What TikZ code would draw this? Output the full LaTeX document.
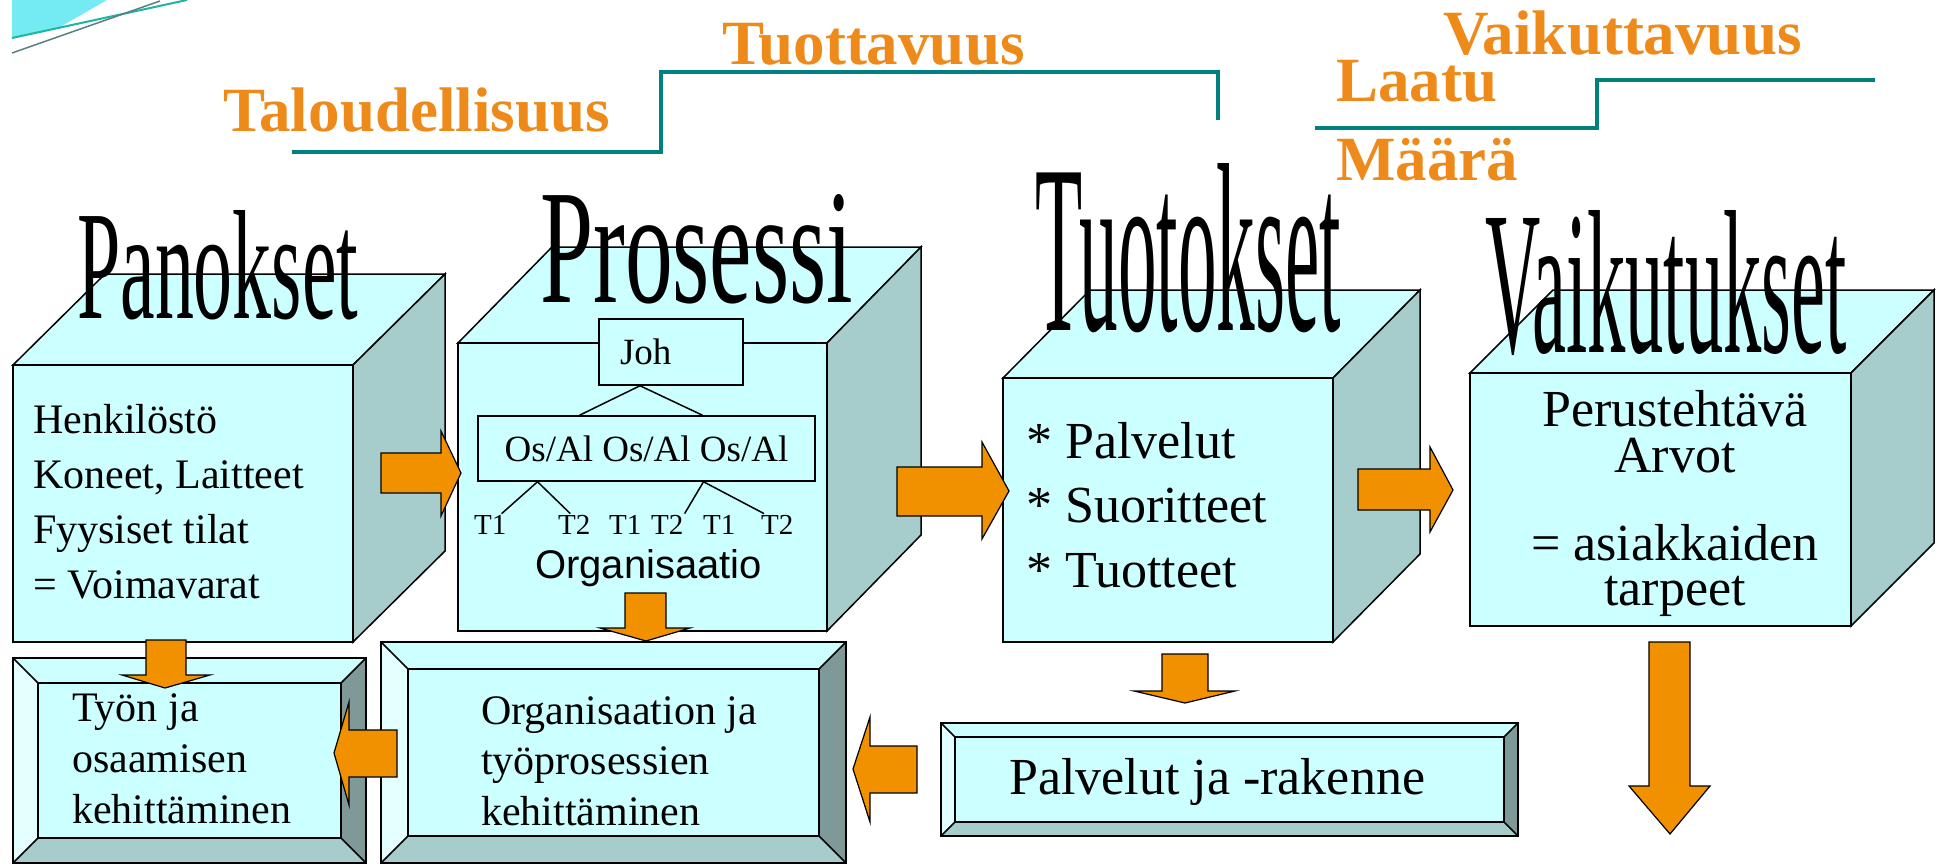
\documentclass[tikz,border=0pt]{standalone}
\usepackage{fontspec}
\setmainfont{Liberation Serif}
\newfontfamily\arialfont{Liberation Sans}
\usetikzlibrary{calc,positioning}

\definecolor{boxcyan}{HTML}{CCFFFF}
\definecolor{sidecyan}{HTML}{A6CCCC}
\definecolor{lightcyan}{HTML}{E3FFFF}
\definecolor{darkside}{HTML}{7F9999}
\definecolor{arroworange}{HTML}{F29100}
\definecolor{textorange}{HTML}{EE8A1A}
\definecolor{stepteal}{HTML}{008080}
\definecolor{swooshcyan}{HTML}{74EAF2}
\definecolor{swooshgreen}{HTML}{1FB5A0}

\newcommand{\fsz}[1]{\fontsize{#1}{#1}\selectfont}

% cube: x1 y1 x2 y2 (front face), dx dy (depth)
\newcommand{\cubebox}[6]{%
  \filldraw[face] (#1,#2) -- ({#1+#5},{#2-#6}) -- ({#3+#5},{#2-#6}) -- (#3,#2) -- cycle;
  \filldraw[side] (#3,#2) -- ({#3+#5},{#2-#6}) -- ({#3+#5},{#4-#6}) -- (#3,#4) -- cycle;
  \filldraw[face] (#1,#2) rectangle (#3,#4);
}
% bevelled box: x1 y1 x2 y2, bevel width
\newcommand{\bevelbox}[5]{%
  \fill[boxcyan] (#1,#2) -- (#3,#2) -- ({#3-#5},{#2+#5}) -- ({#1+#5},{#2+#5}) -- cycle;
  \fill[lightcyan] (#1,#2) -- ({#1+#5},{#2+#5}) -- ({#1+#5},{#4-#5}) -- (#1,#4) -- cycle;
  \fill[sidecyan] (#1,#4) -- ({#1+#5},{#4-#5}) -- ({#3-#5},{#4-#5}) -- (#3,#4) -- cycle;
  \fill[darkside] (#3,#2) -- (#3,#4) -- ({#3-#5},{#4-#5}) -- ({#3-#5},{#2+#5}) -- cycle;
  \fill[boxcyan] ({#1+#5},{#2+#5}) rectangle ({#3-#5},{#4-#5});
  \draw[edge] (#1,#2) rectangle (#3,#4);
  \draw[edge] ({#1+#5},{#2+#5}) rectangle ({#3-#5},{#4-#5});
  \draw[edge] (#1,#2) -- ({#1+#5},{#2+#5}) (#3,#2) -- ({#3-#5},{#2+#5})
              (#1,#4) -- ({#1+#5},{#4-#5}) (#3,#4) -- ({#3-#5},{#4-#5});
}

\tikzset{
  edge/.style={draw=black, line width=1.5pt},
  face/.style={edge, fill=boxcyan},
  side/.style={edge, fill=sidecyan},
  blockarrow/.style={draw=black, line width=1.2pt, fill=arroworange},
  stepline/.style={draw=stepteal, line width=4.5pt},
  measure/.style={anchor=base west, inner sep=0pt, text=textorange, font=\fsz{63}\bfseries},
  heading/.style={anchor=base west, inner sep=0pt},
  boxtext/.style={anchor=base west, inner sep=0pt, font=\fsz{42}},
  bigtext/.style={anchor=base west, inner sep=0pt, font=\fsz{52}},
  orgbox/.style={draw=black, line width=1.5pt, fill=boxcyan, inner sep=0pt, font=\fsz{37}},
  tlabel/.style={anchor=base west, inner sep=1pt, font=\fsz{29}}
}

\begin{document}
\begin{tikzpicture}[x=1pt,y=-1pt]
\useasboundingbox (0,0) rectangle (1939,864);

% corner swoosh
\fill[swooshcyan] (12,0) -- (107,0) -- (60,27) -- (12,38) -- cycle;
\draw[swooshgreen, line width=2pt] (12,38) -- (187,0);
\draw[gray!70!teal, line width=1.5pt] (12,53) -- (160,1);

% step lines
\draw[stepline] (292,152) -- (661,152) -- (661,72) -- (1218,72) -- (1218,120);
\draw[stepline] (1315,128) -- (1597,128) -- (1597,80) -- (1875,80);

\node[measure] (talous) at (223,132) {Taloudellisuus};
\node[measure] (tuottavuus) at (722,65) {Tuottavuus};
\node[measure] (vaikuttavuus) at (1443,55) {Vaikuttavuus};
\node[measure] (laatu) at (1336,102) {Laatu};
\node[measure] (maara) at (1336,180) {Määrä};

% cubes
\cubebox{13}{365}{353}{642}{92}{91}
\cubebox{458}{343}{827}{631}{94}{96}
\cubebox{1003}{378}{1333}{642}{87}{88}
\cubebox{1470}{373}{1851}{626}{83}{83}

\node[heading] (panokset) at (77,318) {\resizebox{281pt}{108pt}{Panokset}};
\node[heading] (prosessi) at (540,302) {\resizebox{313pt}{108pt}{Prosessi}};
\node[heading] (tuotokset) at (1035,330) {\resizebox{306pt}{167pt}{Tuotokset}};
\node[heading] (vaikutukset) at (1485,352) {\resizebox{361pt}{142pt}{Vaikutukset}};

% Panokset
\foreach \t [count=\i] in {Henkilöstö, {Koneet, Laitteet}, Fyysiset tilat, = Voimavarat}
  \node[boxtext] (pan\i) at (33,{433+55*(\i-1)}) {\t};

% Prosessi: organisation tree
\node[orgbox, minimum width=144pt, minimum height=66pt, text width=102pt, inner xsep=21pt, align=left]
  (joh) at (671,352) {Joh};
\node[orgbox, minimum width=337pt, minimum height=65pt] (os) at (646.5,448.5) {Os/Al Os/Al Os/Al};
\foreach \x/\t [count=\i] in {473/T1,557/T2,608/T1,650/T2,702/T1,760/T2}
  \node[tlabel] (t\i) at (\x,534) {\t};
\draw[edge] ([xshift=-31pt]joh.south) -- ([xshift=-67pt]os.north);
\draw[edge] ([xshift=-31pt]joh.south) -- ([xshift=56pt]os.north);
\draw[edge] ([xshift=-109pt]os.south) -- ([xshift=-6pt]t1.north east);
\draw[edge] ([xshift=-109pt]os.south) -- ([xshift=-4pt]t2.north);
\draw[edge] ([xshift=57pt]os.south) -- (t4.north east);
\draw[edge] ([xshift=57pt]os.south) -- ([xshift=4pt]t6.north west);
\node[anchor=base west, inner sep=0pt, font=\arialfont\fsz{40}] (organisaatio) at (535,578) {Organisaatio};

% Tuotokset
\foreach \t [count=\i] in {* Palvelut, * Suoritteet, * Tuotteet}
  \node[bigtext] (tuo\i) at (1026,{458+64.5*(\i-1)}) {\t};

% Vaikutukset
\node[bigtext, anchor=base] (vai1) at (1675,426) {Perustehtävä};
\node[bigtext, anchor=base] (vai2) at (1675,472) {Arvot};
\node[bigtext, anchor=base] (vai3) at (1675,560) {= asiakkaiden};
\node[bigtext, anchor=base] (vai4) at (1675,605) {tarpeet};

% lower boxes
\bevelbox{13}{658}{366}{863}{25}
\bevelbox{381}{642}{846}{863}{27}
\bevelbox{941}{723}{1518}{836}{14}

\foreach \t [count=\i] in {Työn ja, osaamisen, kehittäminen}
  \node[boxtext] (tyo\i) at (72,{721+51*(\i-1)}) {\t};
\foreach \t [count=\i] in {Organisaation ja, työprosessien, kehittäminen}
  \node[boxtext] (kehi\i) at (481,{724+50.5*(\i-1)}) {\t};
\node[bigtext] (rakenne) at (1009,794) {Palvelut ja -rakenne};

% block arrows, right
\filldraw[blockarrow] (381,453) -- (441,453) -- (441,431) -- (461,473) -- (441,516) -- (441,493) -- (381,493) -- cycle;
\filldraw[blockarrow] (897,467) -- (982,467) -- (982,442) -- (1009,491) -- (982,539) -- (982,516) -- (897,516) -- cycle;
\filldraw[blockarrow] (1358,469) -- (1430,469) -- (1430,447) -- (1453,490) -- (1430,532) -- (1430,510) -- (1358,510) -- cycle;
% block arrows, left
\filldraw[blockarrow] (917,746) -- (870,746) -- (870,717) -- (853,769) -- (870,822) -- (870,793) -- (917,793) -- cycle;
\filldraw[blockarrow] (397,730) -- (349,730) -- (349,702) -- (334,753) -- (349,805) -- (349,777) -- (397,777) -- cycle;
% block arrows, down
\filldraw[blockarrow] (146,640) -- (186,640) -- (186,675) -- (210,675) -- (165,688) -- (122,675) -- (146,675) -- cycle;
\filldraw[blockarrow] (625,593) -- (666,593) -- (666,628) -- (690,628) -- (646,641) -- (600,628) -- (625,628) -- cycle;
\filldraw[blockarrow] (1162,654) -- (1208,654) -- (1208,691) -- (1235,691) -- (1185,703) -- (1134,691) -- (1162,691) -- cycle;
\filldraw[blockarrow] (1649,642) -- (1690,642) -- (1690,786) -- (1710,786) -- (1670,834) -- (1629,786) -- (1649,786) -- cycle;
\end{tikzpicture}
\end{document}
